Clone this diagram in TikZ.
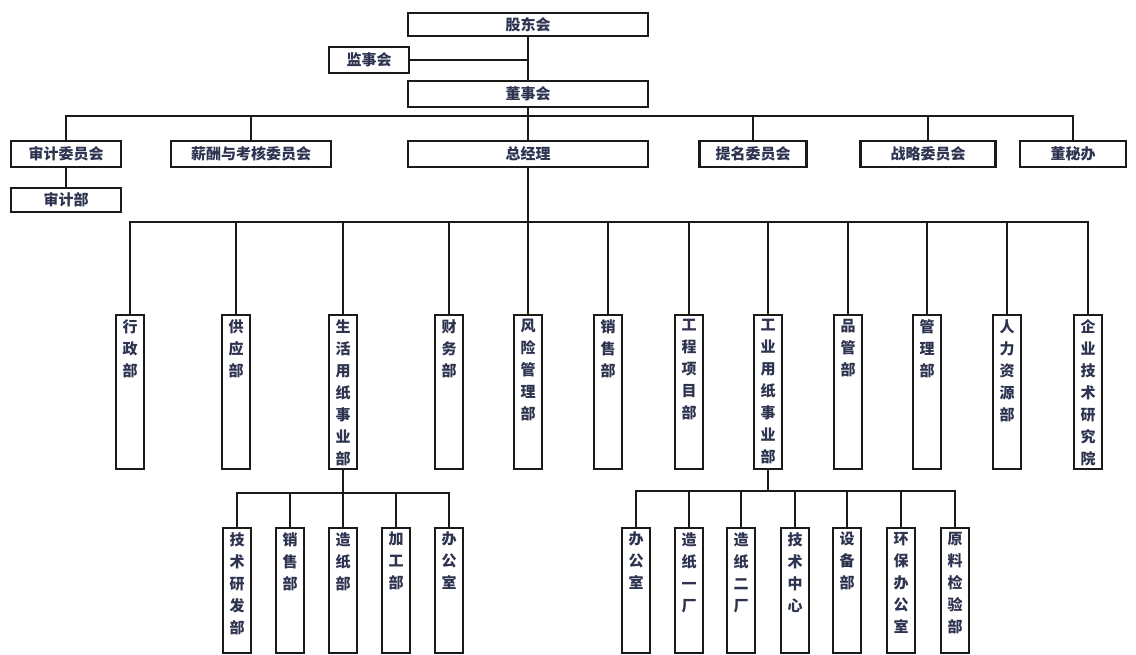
\documentclass[tikz,border=0pt]{standalone}
\usepackage{fontspec}
\newfontfamily\cjk{Noto Sans CJK SC}
\definecolor{txt}{HTML}{2E3350}
\definecolor{ln}{HTML}{1A1A1A}
\newcommand{\vt}[2]{\parbox[c][#1pt][t]{24pt}{\vspace*{4pt}\centering #2}}
\tikzset{
  hbox/.style={draw=ln, line width=2.4pt, inner sep=0pt, minimum height=26pt, fill=white,
    text=txt, font=\cjk\bfseries\fontsize{15}{18}\selectfont},
  vbox/.style={draw=ln, line width=2.4pt, inner sep=0pt, minimum width=28pt, fill=white,
    text=txt, font=\cjk\bfseries\fontsize{15}{22}\selectfont, anchor=north},
  conn/.style={draw=ln, line width=2.4pt}
}
\begin{document}
\begin{tikzpicture}[x=1pt,y=-1pt]
\useasboundingbox (0,0) rectangle (1136,654);
% top
\node[hbox, minimum width=240pt, minimum height=23pt] (gd) at (528,24.5) {股东会};
\node[hbox, minimum width=80pt] (js) at (369,60) {监事会};
\node[hbox, minimum width=240pt] (ds) at (528,94) {董事会};
\coordinate (b1) at (528,116);
\coordinate (b2) at (528,222);
\coordinate (b3) at (343,493);
\coordinate (b4) at (768,491);
% second row
\node[hbox, minimum width=110pt] (sj) at (66,154) {审计委员会};
\node[hbox, minimum width=110pt, minimum height=24pt] (sjb) at (66,200) {审计部};
\node[hbox, minimum width=160pt] (xc) at (251,154) {薪酬与考核委员会};
\node[hbox, minimum width=240pt] (zjl) at (528,154) {总经理};
\node[hbox, minimum width=107pt] (tm) at (753,154) {提名委员会};
\node[hbox, minimum width=135pt] (zl) at (928,154) {战略委员会};
\node[hbox, minimum width=106pt] (dm) at (1073,154) {董秘办};
% departments
\node[vbox] (d1) at (130,314) {\vt{154}{行\\政\\部}};
\node[vbox] (d2) at (236,314) {\vt{154}{供\\应\\部}};
\node[vbox] (d3) at (343,314) {\vt{154}{生\\活\\用\\纸\\事\\业\\部}};
\node[vbox] (d4) at (449,314) {\vt{154}{财\\务\\部}};
\node[vbox] (d5) at (528,314) {\vt{154}{风\\险\\管\\理\\部}};
\node[vbox] (d6) at (608,314) {\vt{154}{销\\售\\部}};
\node[vbox] (d7) at (689,314) {\vt{154}{工\\程\\项\\目\\部}};
\node[vbox] (d8) at (768,314) {\vt{154}{工\\业\\用\\纸\\事\\业\\部}};
\node[vbox] (d9) at (848,314) {\vt{154}{品\\管\\部}};
\node[vbox] (d10) at (927,314) {\vt{154}{管\\理\\部}};
\node[vbox] (d11) at (1007,314) {\vt{154}{人\\力\\资\\源\\部}};
\node[vbox] (d12) at (1088,314) {\vt{154}{企\\业\\技\\术\\研\\究\\院}};
% sub departments (left)
\node[vbox] (s1) at (237,527) {\vt{125}{技\\术\\研\\发\\部}};
\node[vbox] (s2) at (290,527) {\vt{125}{销\\售\\部}};
\node[vbox] (s3) at (343,527) {\vt{125}{造\\纸\\部}};
\node[vbox] (s4) at (396,527) {\vt{125}{加\\工\\部}};
\node[vbox] (s5) at (449,527) {\vt{125}{办\\公\\室}};
% sub departments (right)
\node[vbox] (t1) at (636,527) {\vt{125}{办\\公\\室}};
\node[vbox] (t2) at (689,527) {\vt{125}{造\\纸\\一\\厂}};
\node[vbox] (t3) at (741,527) {\vt{125}{造\\纸\\二\\厂}};
\node[vbox] (t4) at (795,527) {\vt{125}{技\\术\\中\\心}};
\node[vbox] (t5) at (847,527) {\vt{125}{设\\备\\部}};
\node[vbox] (t6) at (901,527) {\vt{125}{环\\保\\办\\公\\室}};
\node[vbox] (t7) at (955,527) {\vt{125}{原\\料\\检\\验\\部}};
% connectors
\begin{scope}[on background layer/.style={}]
\draw[conn] (gd.south) -- (ds.north);
\draw[conn] (js.east) -- (js.east -| gd.south);
\draw[conn] (ds.south) -- (zjl.north);
\draw[conn] (sj.north) |- (b1) -| (dm.north);
\draw[conn] (xc.north) -- (xc.north |- b1);
\draw[conn] (tm.north) -- (tm.north |- b1);
\draw[conn] (zl.north) -- (zl.north |- b1);
\draw[conn] (sj.south) -- (sjb.north);
\draw[conn] (zjl.south) -- (d5.north);
\draw[conn] (d1.north) |- (b2) -| (d12.north);
\foreach \n in {d2,d3,d4,d6,d7,d8,d9,d10,d11}
  \draw[conn] (\n.north) -- (\n.north |- b2);
\draw[conn] (d3.south) -- (s3.north);
\draw[conn] (s1.north) |- (b3) -| (s5.north);
\foreach \n in {s2,s4}
  \draw[conn] (\n.north) -- (\n.north |- b3);
\draw[conn] (d8.south) -- (b4);
\draw[conn] (t1.north) |- (b4) -| (t7.north);
\foreach \n in {t2,t3,t4,t5,t6}
  \draw[conn] (\n.north) -- (\n.north |- b4);
\end{scope}
\end{tikzpicture}
\end{document}
